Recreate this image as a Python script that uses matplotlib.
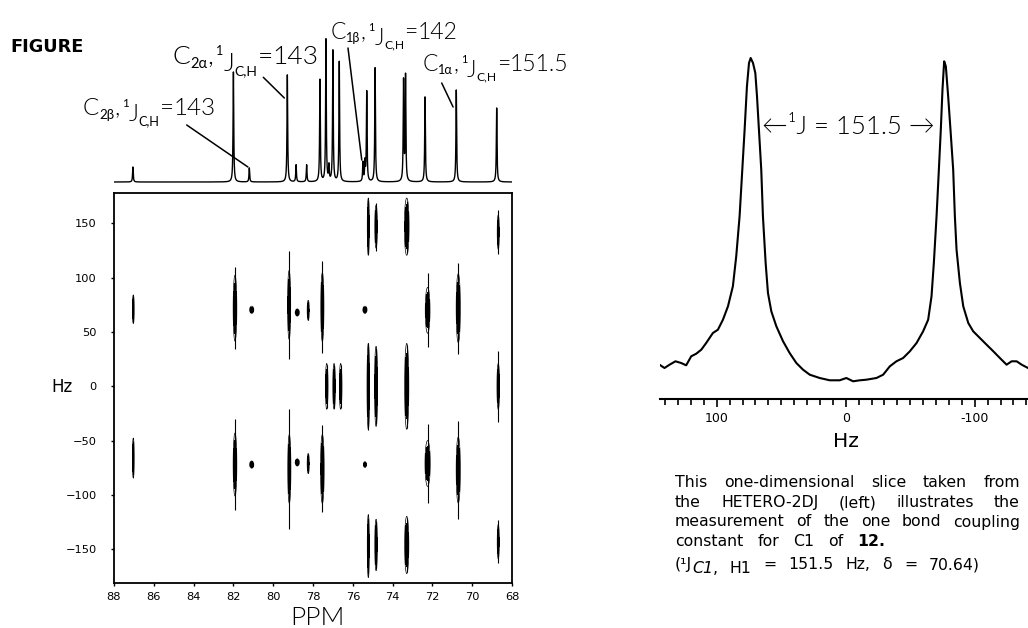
import numpy as np
import matplotlib
matplotlib.use('Agg')
import matplotlib.pyplot as plt
from matplotlib.ticker import MultipleLocator, FixedLocator

# 1D proton-decoupled 13C spectrum above the 2D map (ppm, height)
peak_ppm = [87.05, 82.0, 81.2, 79.29, 78.85, 78.32, 77.65, 77.35, 77.2, 77.0,
            76.68, 75.49, 75.39, 75.3, 74.88, 73.45, 73.35, 72.37, 70.8, 68.77]
peak_height = [15, 110, 14, 107, 17, 17, 102, 142, 15, 131,
               120, 19, 19, 90, 114, 100, 105, 85, 92, 74]

# 2D HETERO-2DJ spots : ppm, Hz, half length of the black core (Hz),
# half length of the thin streak (Hz), half width of the core (ppm)
spot_ppm = [87.03, 81.92, 81.08, 79.2, 78.79, 78.24, 77.53, 75.39, 72.24, 70.7,
            87.03, 81.92, 81.08, 79.19, 78.79, 78.24, 77.53, 75.39, 72.24, 70.7,
            77.31, 76.94, 76.61, 75.22, 74.83, 73.29, 68.69,
            75.22, 74.83, 73.29, 68.69,
            75.22, 74.83, 73.29, 68.69]
spot_hz = [71, 72, 70.5, 75, 68, 70, 73, 70.5, 70, 72,
           -66, -72, -72, -76, -70, -71, -76, -72, -71, -77,
           0, 0, 0, 0, 0, 0, 0,
           147, 147, 147, 142,
           -147, -146, -146, -143]
spot_core = [10, 23, 2.5, 24, 2.5, 7, 24, 2.5, 16, 24,
             14, 22, 2.5, 24, 2.5, 7, 24, 2, 16, 23,
             16, 16, 16, 30, 28, 30, 16,
             20, 15, 20, 12,
             22, 18, 20, 12]
spot_tail = [12, 38, 0, 50, 0, 9, 42, 0, 34, 42,
             16, 42, 0, 55, 0, 9, 40, 0, 36, 45,
             20, 20, 20, 40, 35, 38, 33,
             25, 22, 24, 20,
             26, 22, 25, 20]
spot_w = [0.035, 0.07, 0.08, 0.06, 0.08, 0.04, 0.06, 0.08, 0.09, 0.08,
          0.035, 0.07, 0.08, 0.06, 0.08, 0.04, 0.07, 0.06, 0.1, 0.08,
          0.05, 0.05, 0.05, 0.05, 0.06, 0.08, 0.05,
          0.04, 0.05, 0.09, 0.04,
          0.04, 0.05, 0.08, 0.04]

# Slice through C1 (Hz, intensity)
slice_hz = [144.4, 140.5, 136.6, 132.0, 127.6, 123.7, 119.8, 115.9, 112.0, 108.2,
            103.0, 99.1, 95.2, 91.3, 87.5, 84.9, 82.3, 80.2, 78.4, 76.6,
            75.0, 73.7, 71.9, 70.1, 68.8, 67.3, 65.5, 64.2, 62.1, 60.3,
            57.7, 53.8, 48.6, 43.5, 38.3, 33.1, 27.9, 20.2, 12.4, 4.7,
            -0.5, -5.7, -10.9, -16.0, -23.8, -29.0, -34.2, -39.3, -44.5, -49.7,
            -54.9, -60.0, -63.9, -66.5, -68.3, -70.4, -72.2, -73.7, -75.0, -76.3,
            -77.6, -79.4, -81.2, -83.3, -84.6, -85.9, -88.5, -91.1, -95.0, -98.8,
            -104.0, -109.2, -114.4, -119.5, -124.7, -128.6, -132.5, -136.4, -141.3]
slice_int = [34.3, 31, 34.3, 37.7, 36, 33.7, 42.7, 45.3, 49.3, 56,
             66, 69.3, 79.3, 92.7, 112.7, 142.7, 182.7, 229.3, 269.3, 312.7,
             336, 341, 336, 326, 302.7, 269.3, 229.3, 182.7, 136, 106,
             87.7, 72.7, 57.7, 46, 36, 29.3, 24.3, 21, 18.7, 18.7,
             21, 17.7, 18.7, 19.3, 21, 24.3, 32.7, 37.7, 41, 47.7,
             56, 67.7, 79.3, 102.7, 136, 182.7, 229.3, 269.3, 309.3, 337.7,
             332.7, 302.7, 269.3, 229.3, 182.7, 149.3, 116, 92.7, 76, 67.7,
             61, 54.3, 47.7, 41, 34.3, 37.7, 37.7, 34.3, 31]
slice_ticks = [100, 0, -100]
slice_ticklabels = ['100', '0', '-100']

# Annotations of the 1D spectrum
label_sub = ['2β', '2α', '1β', '1α']
label_value = ['143', '143', '142', '151.5']
label_pos = [(82.7, 115), (172.7, 64), (331, 39), (423, 71)]        # pixels (left, baseline)
label_size = [17.5, 19, 16.5, 16.5]
pointer_start = [(186.7, 125), (263.3, 77.3), (348, 48), (441.7, 83)]  # pixels
pointer_end = [(81.27, 15), (79.44, 84), (75.55, 22), (70.96, 75)]     # ppm, height

caption = ["This one-dimensional slice taken from",
           "the HETERO-2DJ (left) illustrates the",
           "measurement of the one bond coupling"]

W, H = 1028, 628
fig = plt.figure(figsize=(W / 100, H / 100), dpi=100)
renderer = fig.canvas.get_renderer()

def fx(px):
    return px / W

def fy(py):
    return 1 - py / H

LABEL_FONT = ['Lato', 'DejaVu Sans']
THIN = 300

# écrit un texte en plusieurs morceaux (indices, exposants), renvoie la largeur
def segments(x0, y0, parts, family):
    x = x0
    texts = []
    for s, sz, dy, weight, style in parts:
        if s == ' ':
            x += sz
            continue
        t = fig.text(fx(x), fy(y0 - dy), s, fontsize=sz, family=family,
                     weight=weight, style=style, va='baseline', ha='left')
        texts.append((t, x - x0))
        x += t.get_window_extent(renderer).width
    return x - x0, texts

# ligne de texte justifiée entre left et right (mots = listes de morceaux)
def justify(words, left, right, yb, family):
    groups = []
    total = 0
    for parts in words:
        wd, texts = segments(0, yb, parts, family)
        groups.append((wd, texts))
        total += wd
    gap = (right - left - total) / (len(words) - 1)
    x = left
    for wd, texts in groups:
        for t, xo in texts:
            t.set_x(fx(x + xo))
        x += wd + gap

# ---- 2D map ----
ax = fig.add_axes([fx(114), fy(583), 398 / W, 390 / H])
xg = np.linspace(88, 68, 4001)
yg = np.linspace(-181, 178, 719)
Z = np.zeros((len(yg), len(xg)))
k = np.sqrt(2 * np.log(2))
for p, hz, lc, w in zip(spot_ppm, spot_hz, spot_core, spot_w):
    gy = np.exp(-(yg - hz) ** 2 / (2 * (lc / k) ** 2))
    gx = np.exp(-(xg - p) ** 2 / (2 * (w / k) ** 2))
    Z += np.outer(gy, gx)
ax.vlines(spot_ppm, np.array(spot_hz) - np.array(spot_tail),
          np.array(spot_hz) + np.array(spot_tail), color='black', lw=0.8)
ax.contourf(xg, yg, Z, levels=[0.5, Z.max() + 1], colors='black')
ax.contour(xg, yg, Z, levels=[0.3], colors='black', linewidths=0.5)
ax.set_xlim(88, 68)
ax.set_ylim(-181, 178)
ax.xaxis.set_major_locator(MultipleLocator(2))
ax.yaxis.set_major_locator(MultipleLocator(50))
ax.tick_params(direction='out', length=2.5, width=1, labelsize=8.2, color='black')
ax.tick_params(axis='y', pad=10)
ax.tick_params(axis='x', pad=4)
for s in ax.spines.values():
    s.set_linewidth(1.3)
fig.text(fx(317), fy(625), 'PPM', fontsize=19, family=LABEL_FONT, weight=THIN,
         ha='center', va='baseline')
fig.text(fx(62), fy(392), 'Hz', fontsize=12, family='DejaVu Sans', ha='center', va='baseline')

# ---- 1D spectrum on top ----
ax_top = fig.add_axes([fx(114), fy(192), 398 / W, 192 / H])
xs = np.linspace(88, 68, 8001)
spec = np.zeros_like(xs)
for p, h in zip(peak_ppm, peak_height):
    spec += h / (1 + ((xs - p) / 0.02) ** 2)
ax_top.plot(xs, spec, color='black', lw=1.0)
ax_top.set_xlim(88, 68)
ax_top.set_ylim(-10, 182)
ax_top.axis('off')
for (sx0, sy0), xy in zip(pointer_start, pointer_end):
    ax_top.annotate('', xy=xy, xycoords='data', xytext=(sx0, H - sy0),
                    textcoords='figure pixels',
                    arrowprops=dict(arrowstyle='-', lw=1.1, color='black',
                                    shrinkA=0, shrinkB=0))

for (lx, ly), sub, val, big in zip(label_pos, label_sub, label_value, label_size):
    r = big / 19
    parts = [('C', big, 0, THIN, 'normal'),
             (sub, 10.5 * r, -4 * r, 'normal', 'normal'),
             (',', big, 0, THIN, 'normal'),
             (' ', 3 * r, 0, None, None),
             ('1', 9 * r, 9 * r, 'normal', 'normal'),
             ('J', big, -7 * r, THIN, 'normal'),
             ('C,H', 10 * r, -11 * r, 'normal', 'normal'),
             ('=', big, 0, THIN, 'normal'),
             (val, big, 0, THIN, 'normal')]
    segments(lx, ly, parts, LABEL_FONT)

fig.text(fx(10), fy(52), 'FIGURE', fontsize=12.8, weight='bold', family='DejaVu Sans',
         ha='left', va='baseline')

# ---- slice ----
ax3 = fig.add_axes([fx(660), fy(399), (W - 660) / W, 360 / H])
ax3.plot(slice_hz, slice_int, color='black', lw=1.5)
ax3.set_xlim(144, -141.3)
ax3.set_ylim(0, 360)
for s in ['top', 'right', 'left']:
    ax3.spines[s].set_visible(False)
ax3.spines['bottom'].set_linewidth(1.5)
ax3.set_yticks([])
ax3.xaxis.set_major_locator(FixedLocator(slice_ticks))
ax3.set_xticklabels(slice_ticklabels)
ax3.xaxis.set_minor_locator(MultipleLocator(10))
ax3.tick_params(which='major', direction='out', length=6, width=1.2, labelsize=9, pad=3)
ax3.tick_params(which='minor', direction='out', length=4, width=1.2)
ax3.patch.set_alpha(0)
fig.text(fx(846), fy(447), 'Hz', fontsize=14.5, family='DejaVu Sans', ha='center', va='baseline')
fig.text(fx(848), fy(134), '←¹J = 151.5 →', fontsize=18.5, family=LABEL_FONT, weight=THIN,
         ha='center', va='baseline')

# ---- caption, justified like the original ----
CAP = 11.3
N = 'normal'
baselines = [487, 507, 526.5, 546.5, 569]
left, right = 675, 1020
for line, yb in zip(caption, baselines):
    justify([[(w, CAP, 0, N, N)] for w in line.split()], left, right, yb, 'DejaVu Sans')
justify([[('constant', CAP, 0, N, N)], [('for', CAP, 0, N, N)], [('C1', CAP, 0, N, N)],
         [('of', CAP, 0, N, N)], [('12.', CAP, 0, 'bold', N)]],
        left, 885, baselines[3], 'DejaVu Sans')
justify([[('(¹J', CAP, 0, N, N), ('C1', CAP, -4, N, 'italic'), (',', CAP, -4, N, N)],
         [('H1', CAP, -4, N, N)], [('=', CAP, 0, N, N)], [('151.5', CAP, 0, N, N)],
         [('Hz,', CAP, 0, N, N)], [('δ', CAP, 0, N, N)], [('=', CAP, 0, N, N)],
         [('70.64)', CAP, 0, N, N)]],
        left, 980, baselines[4], 'DejaVu Sans')

fig.savefig('out.png', dpi=100)
